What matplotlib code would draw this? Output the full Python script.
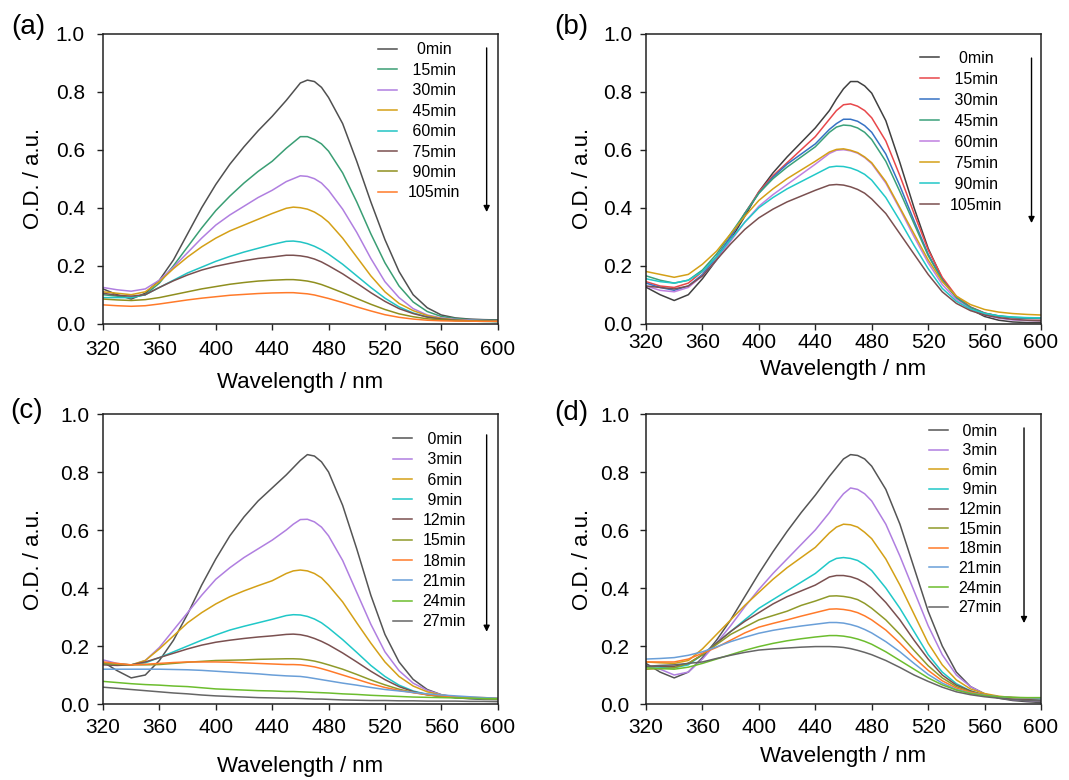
import numpy as np
import matplotlib
matplotlib.use("Agg")
import matplotlib.pyplot as plt

plt.rcParams["font.family"] = ["Liberation Sans", "DejaVu Sans"]

# wavelength grid (nm) shared by all spectra, finer around the band maximum
wl = [320, 330, 340, 350, 360, 370, 380, 390, 400, 410, 420, 430, 440, 450, 455, 460,
      465, 470, 475, 480, 490, 500, 510, 520, 530, 540, 550, 560, 570, 580, 590, 600]

# ---- panel (a)
labels_a = ["0min", "15min", "30min", "45min", "60min", "75min", "90min", "105min"]
colors_a = ["#505050", "#3a9e74", "#b07fe0", "#d4a017", "#22c4c4", "#7a5050", "#8f8f1f", "#ff7a2a"]
a_0 = [.12, .10, .085, .105, .15, .22, .31, .40, .48, .55, .61, .665, .715, .77, .80, .83, .84, .835, .815, .78, .69, .56, .42, .29, .18, .10, .055, .03, .02, .016, .014, .013]
a_15 = [.10, .095, .09, .10, .14, .20, .265, .33, .39, .44, .485, .525, .56, .605, .625, .645, .645, .635, .62, .595, .52, .42, .31, .21, .13, .075, .042, .025, .018, .014, .012, .011]
a_30 = [.125, .117, .112, .12, .15, .195, .245, .295, .34, .375, .405, .435, .46, .49, .50, .51, .508, .50, .485, .46, .395, .315, .225, .145, .09, .052, .03, .02, .015, .012, .011, .01]
a_45 = [.11, .105, .10, .11, .145, .19, .23, .265, .295, .32, .34, .36, .38, .398, .402, .40, .395, .385, .37, .35, .295, .23, .165, .11, .07, .045, .028, .018, .013, .01, .009, .008]
a_60 = [.09, .09, .09, .10, .125, .15, .175, .195, .215, .232, .247, .26, .273, .284, .285, .282, .276, .267, .255, .24, .205, .165, .125, .088, .058, .037, .023, .015, .011, .009, .008, .007]
a_75 = [.105, .098, .095, .10, .125, .148, .168, .185, .198, .208, .217, .225, .23, .236, .236, .234, .23, .223, .213, .20, .172, .14, .107, .077, .052, .035, .023, .016, .012, .01, .009, .008]
a_90 = [.085, .082, .08, .083, .09, .10, .11, .12, .128, .136, .142, .147, .15, .152, .152, .15, .147, .142, .135, .126, .107, .087, .067, .049, .034, .024, .017, .013, .011, .01, .009, .008]
a_105 = [.065, .062, .06, .062, .068, .075, .082, .088, .093, .098, .101, .104, .106, .107, .107, .105, .103, .099, .093, .087, .073, .058, .044, .031, .022, .016, .012, .01, .009, .009, .008, .008]
spectra_a = [a_0, a_15, a_30, a_45, a_60, a_75, a_90, a_105]

# ---- panel (b)
labels_b = ["0min", "15min", "30min", "45min", "60min", "75min", "90min", "105min"]
colors_b = ["#404040", "#e8474a", "#3672c4", "#3aa17a", "#c080e0", "#d4a017", "#22c8c8", "#7a5050"]
b_0 = [.126, .10, .08, .10, .155, .22, .29, .37, .455, .52, .575, .625, .675, .735, .775, .81, .835, .835, .82, .795, .70, .555, .40, .26, .155, .09, .05, .025, .012, .006, .004, .004]
b_15 = [.145, .13, .125, .14, .18, .23, .30, .38, .455, .51, .555, .60, .645, .705, .735, .755, .758, .75, .735, .71, .63, .51, .38, .255, .16, .095, .058, .037, .026, .02, .018, .017]
b_30 = [.14, .125, .115, .13, .17, .23, .30, .38, .45, .505, .55, .585, .62, .67, .69, .705, .705, .698, .683, .66, .585, .475, .355, .24, .15, .09, .056, .036, .026, .021, .019, .018]
b_45 = [.165, .15, .14, .15, .185, .24, .31, .38, .45, .50, .54, .575, .61, .66, .678, .685, .683, .675, .66, .635, .56, .455, .345, .235, .15, .09, .056, .036, .027, .022, .02, .02]
b_60 = [.13, .115, .11, .125, .165, .22, .285, .35, .405, .445, .48, .515, .55, .587, .598, .60, .596, .588, .573, .552, .485, .395, .30, .21, .135, .083, .05, .03, .019, .013, .011, .01]
b_75 = [.18, .17, .16, .17, .205, .25, .31, .37, .425, .465, .50, .53, .56, .592, .601, .603, .598, .59, .575, .555, .49, .40, .31, .22, .145, .095, .066, .049, .04, .035, .032, .03]
b_90 = [.155, .145, .14, .15, .18, .23, .29, .35, .40, .435, .465, .49, .515, .54, .543, .542, .537, .528, .515, .495, .435, .355, .27, .19, .122, .077, .05, .035, .027, .023, .021, .02]
b_105 = [.13, .125, .12, .13, .165, .22, .275, .325, .365, .395, .42, .44, .46, .478, .48, .478, .472, .463, .45, .43, .38, .31, .24, .17, .11, .07, .045, .03, .021, .015, .012, .01]
spectra_b = [b_0, b_15, b_30, b_45, b_60, b_75, b_90, b_105]

# ---- panels (c) and (d) share time labels / colours
labels_cd = ["0min", "3min", "6min", "9min", "12min", "15min", "18min", "21min", "24min", "27min"]
colors_cd = ["#555555", "#b07fe0", "#d4a017", "#20c8c8", "#7a5050", "#8f9a2a", "#ff7a2a", "#6a9fd8", "#6cbd2e", "#666666"]

c_0 = [.145, .115, .09, .10, .15, .22, .31, .41, .50, .58, .645, .70, .745, .79, .815, .84, .86, .855, .835, .80, .685, .535, .375, .24, .145, .085, .05, .032, .022, .018, .016, .015]
c_3 = [.152, .14, .134, .15, .195, .255, .315, .375, .43, .47, .505, .535, .565, .60, .62, .636, .637, .628, .61, .58, .495, .385, .275, .18, .115, .072, .047, .032, .025, .021, .019, .018]
c_6 = [.14, .137, .135, .15, .19, .235, .28, .315, .345, .37, .39, .408, .425, .45, .459, .462, .459, .45, .435, .41, .352, .28, .21, .145, .095, .062, .042, .031, .025, .021, .019, .018]
c_9 = [.14, .137, .135, .142, .16, .18, .20, .22, .238, .255, .268, .28, .292, .305, .308, .307, .302, .293, .28, .262, .222, .178, .133, .095, .065, .045, .033, .026, .022, .02, .019, .018]
c_12 = [.135, .133, .135, .145, .16, .175, .19, .203, .213, .22, .226, .231, .235, .24, .241, .239, .234, .226, .216, .204, .176, .145, .113, .084, .06, .043, .032, .026, .022, .02, .019, .018]
c_15 = [.14, .137, .135, .135, .136, .14, .144, .147, .15, .151, .152, .154, .155, .156, .156, .155, .152, .148, .142, .135, .12, .102, .083, .066, .051, .04, .032, .026, .023, .021, .019, .018]
c_18 = [.145, .14, .135, .137, .14, .143, .145, .145, .145, .144, .142, .14, .138, .136, .136, .135, .132, .128, .122, .115, .10, .085, .07, .057, .047, .039, .032, .028, .025, .023, .022, .02]
c_21 = [.12, .12, .12, .12, .12, .119, .118, .116, .113, .11, .107, .104, .10, .097, .096, .095, .092, .088, .084, .08, .072, .065, .057, .05, .045, .04, .035, .031, .028, .025, .022, .02]
c_24 = [.078, .074, .07, .067, .065, .062, .06, .056, .052, .05, .048, .046, .045, .043, .043, .042, .041, .04, .039, .038, .035, .033, .03, .028, .026, .024, .023, .022, .021, .02, .019, .018]
c_27 = [.058, .054, .05, .046, .042, .038, .035, .031, .028, .026, .024, .022, .021, .02, .02, .019, .018, .017, .017, .016, .014, .013, .012, .012, .011, .011, .01, .01, .01, .009, .009, .008]
spectra_c = [c_0, c_3, c_6, c_9, c_12, c_15, c_18, c_21, c_24, c_27]

d_0 = [.14, .11, .09, .11, .16, .22, .29, .37, .45, .525, .595, .66, .72, .785, .815, .845, .86, .857, .845, .82, .74, .62, .47, .32, .20, .11, .06, .035, .02, .012, .008, .005]
d_3 = [.13, .12, .10, .11, .155, .21, .27, .335, .395, .45, .50, .55, .60, .66, .695, .725, .745, .74, .725, .70, .62, .51, .39, .27, .17, .10, .06, .035, .022, .015, .012, .01]
d_6 = [.145, .142, .14, .15, .19, .24, .29, .34, .385, .43, .47, .505, .54, .59, .61, .62, .618, .61, .592, .57, .50, .41, .31, .21, .135, .083, .052, .036, .027, .022, .02, .02]
d_9 = [.13, .127, .125, .135, .17, .21, .25, .29, .33, .36, .39, .42, .45, .49, .502, .505, .502, .495, .48, .46, .40, .33, .25, .17, .11, .07, .045, .03, .022, .018, .015, .013]
d_12 = [.13, .13, .13, .14, .17, .21, .25, .285, .315, .345, .37, .39, .41, .438, .443, .443, .439, .431, .418, .40, .35, .29, .22, .155, .10, .065, .045, .03, .022, .018, .015, .013]
d_15 = [.12, .122, .125, .14, .17, .205, .24, .265, .29, .305, .32, .34, .355, .372, .373, .371, .367, .36, .347, .33, .29, .24, .185, .132, .09, .06, .042, .031, .025, .022, .021, .02]
d_18 = [.145, .145, .145, .155, .175, .195, .22, .245, .265, .278, .29, .303, .315, .327, .328, .326, .322, .315, .304, .29, .255, .21, .16, .116, .08, .055, .04, .031, .025, .022, .021, .02]
d_21 = [.155, .157, .16, .168, .18, .197, .215, .23, .244, .254, .262, .269, .275, .281, .281, .279, .274, .267, .257, .245, .215, .18, .14, .102, .072, .05, .037, .03, .025, .022, .021, .02]
d_24 = [.125, .122, .12, .127, .14, .155, .17, .185, .198, .209, .218, .225, .231, .236, .236, .234, .23, .224, .216, .206, .18, .15, .12, .09, .066, .048, .036, .029, .025, .023, .022, .022]
d_27 = [.13, .133, .135, .14, .145, .157, .168, .178, .186, .19, .193, .196, .198, .198, .197, .195, .191, .185, .178, .17, .15, .126, .10, .078, .058, .042, .032, .025, .02, .015, .012, .01]
spectra_d = [d_0, d_3, d_6, d_9, d_12, d_15, d_18, d_21, d_24, d_27]


W, H = 1069, 780
fig = plt.figure(figsize=(W / 100, H / 100), dpi=100)


def px_axes(x0, x1, ytop, ybot):
    return fig.add_axes([x0 / W, 1 - ybot / H, (x1 - x0) / W, (ybot - ytop) / H])


def panel(ax, spectra, labels, colors, leg_xy, spacing, arrow, xpad, ypad, xlab_y, ylab_x):
    width = max(len(l) for l in labels)
    for s, lab, c in zip(spectra, labels, colors):
        # a space is half a digit wide, so right-justifying centres the labels
        ax.plot(wl, s, color=c, lw=1.1, label=lab.rjust(width))
    ax.set_xlim(320, 600)
    ax.set_ylim(0, 1.0)
    ax.set_xticks(np.arange(320, 601, 40))
    ax.set_yticks(np.arange(0, 1.01, 0.2))
    ax.set_yticklabels([f"{v:.1f}" for v in np.arange(0, 1.01, 0.2)])
    for sp in ax.spines.values():
        sp.set_linewidth(1.1)
        sp.set_color("#222222")
    ax.tick_params(axis="both", direction="out", length=4, width=1.0,
                   color="#222222", labelsize=15)
    ax.tick_params(axis="x", pad=xpad)
    ax.tick_params(axis="y", pad=ypad)
    ax.set_xlabel("Wavelength / nm", fontsize=16)
    ax.set_ylabel("O.D. / a.u.", fontsize=16)
    ax.xaxis.set_label_coords(0.5, xlab_y)
    ax.yaxis.set_label_coords(ylab_x, 0.5)
    ax.legend(loc="upper left", bbox_to_anchor=leg_xy, frameon=False,
              fontsize=11.5, handlelength=1.2, handletextpad=0.65,
              labelspacing=spacing, borderpad=0, borderaxespad=0)
    ax.annotate("", xy=(arrow[0], arrow[2]), xytext=(arrow[0], arrow[1]),
                xycoords="axes fraction",
                arrowprops=dict(arrowstyle="-|>", color="black", lw=1.0,
                                mutation_scale=9, shrinkA=0, shrinkB=0))


ax_a = px_axes(103, 497.7, 33.7, 323.7)
ax_b = px_axes(646, 1041, 33.7, 323.7)
ax_c = px_axes(103, 497.7, 414, 704)
ax_d = px_axes(646, 1041, 414, 704)

panel(ax_a, spectra_a, labels_a, colors_a, (0.697, 0.97), 0.34, (0.972, 0.951, 0.385), 8, 9, -0.165, -0.15)
panel(ax_b, spectra_b, labels_b, colors_b, (0.694, 0.942), 0.38, (0.976, 0.916, 0.347), 3, 6, -0.12, -0.135)
panel(ax_c, spectra_c, labels_cd, colors_cd, (0.735, 0.938), 0.33, (0.972, 0.928, 0.249), 6, 6, -0.18, -0.15)
panel(ax_d, spectra_d, labels_cd, colors_cd, (0.716, 0.967), 0.29, (0.957, 0.952, 0.279), 6, 8, -0.145, -0.135)

for lab, x, y in [("(a)", 28, 27), ("(b)", 571, 27), ("(c)", 27, 411), ("(d)", 571, 413)]:
    fig.text(x / W, 1 - y / H, lab, fontsize=20, ha="center", va="center")

fig.savefig("out.png", dpi=100)
